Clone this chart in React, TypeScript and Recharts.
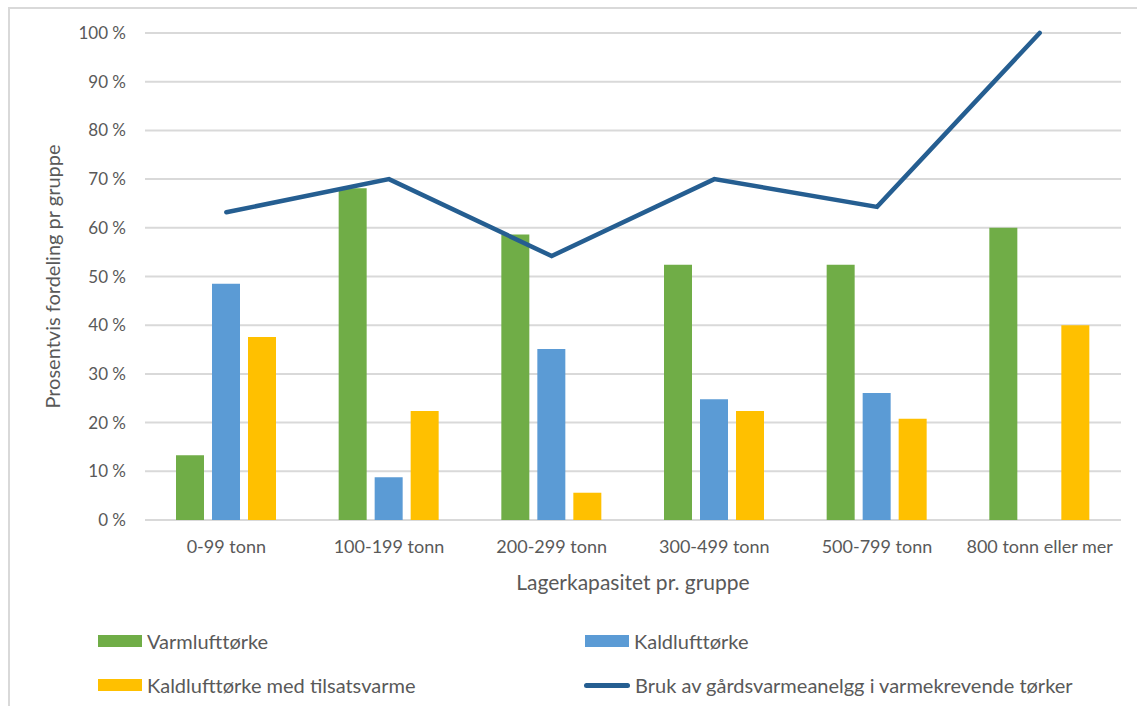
import React from 'react';
import { ComposedChart, Bar, Line, XAxis, YAxis, CartesianGrid } from 'recharts';

const categories = ['0-99 tonn', '100-199 tonn', '200-299 tonn', '300-499 tonn', '500-799 tonn', '800 tonn eller mer'];
const varmluft = [13.3, 68.1, 58.6, 52.4, 52.4, 60];
const kaldluft = [48.5, 8.8, 35.1, 24.8, 26.1, 0];
const medTilsats = [37.6, 22.4, 5.6, 22.4, 20.8, 40];
const gardsvarme = [63.2, 70, 54.2, 70, 64.3, 100];
const yTicks = [0, 10, 20, 30, 40, 50, 60, 70, 80, 90, 100];

const data = categories.map((name, i) => ({
  name,
  varm: varmluft[i],
  kald: kaldluft[i],
  med: medTilsats[i],
  bruk: gardsvarme[i],
}));

const FONT = 'Lato, "Liberation Sans", sans-serif';
const TEXT = '#595959';

const LegendItem: React.FC<{ x: number; y: number; label: string; color: string; line?: boolean }> = ({ x, y, label, color, line }) => (
  <div style={{ position: 'absolute', left: x, top: y - 12, height: 24, display: 'flex', alignItems: 'center' }}>
    <div
      style={{
        width: line ? 46 : 44,
        height: line ? 5 : 12,
        borderRadius: line ? 3 : 0,
        background: color,
        marginRight: 5,
      }}
    />
    <span style={{ fontFamily: FONT, fontSize: 20, color: TEXT, whiteSpace: 'nowrap' }}>{label}</span>
  </div>
);

export default function App() {
  return (
    <div style={{ position: 'absolute', left: 0, top: 0, width: 1137, height: 706, background: '#fff', overflow: 'hidden' }}>
      {/* chart frame, only left and top edges show */}
      <div style={{ position: 'absolute', left: 8, top: 7, width: 1200, height: 800, borderLeft: '2px solid #d9d9d9', borderTop: '2px solid #d9d9d9' }} />
      <ComposedChart
        width={1137}
        height={706}
        data={data}
        margin={{ top: 33, right: 16, left: 0, bottom: 111 }}
        barSize={28}
        barGap={8}
        style={{ position: 'absolute', left: 0, top: 0 }}
      >
        <CartesianGrid vertical={false} stroke="#d9d9d9" strokeWidth={2} />
        <XAxis
          dataKey="name"
          height={75}
          axisLine={false}
          tickLine={false}
          tickSize={0}
          tickMargin={20}
          tick={{ fill: TEXT, fontSize: 18, fontFamily: FONT }}
          label={{ value: 'Lagerkapasitet pr. gruppe', position: 'insideBottom', offset: 5, fill: TEXT, fontSize: 21, fontFamily: FONT }}
        />
        <YAxis
          width={145}
          domain={[0, 100]}
          ticks={yTicks}
          axisLine={false}
          tickLine={false}
          tickSize={0}
          tickMargin={19}
          tickFormatter={(v: number) => `${v} %`}
          tick={{ fill: TEXT, fontSize: 17, fontFamily: FONT }}
          label={{
            value: 'Prosentvis fordeling pr gruppe',
            angle: -90,
            position: 'insideLeft',
            offset: 53,
            fill: TEXT,
            fontSize: 20,
            fontFamily: FONT,
            style: { textAnchor: 'middle' },
          }}
        />
        <Bar dataKey="varm" name="Varmlufttørke" fill="#70ad47" isAnimationActive={false} />
        <Bar dataKey="kald" name="Kaldlufttørke" fill="#5b9bd5" isAnimationActive={false} />
        <Bar dataKey="med" name="Kaldlufttørke med tilsatsvarme" fill="#ffc000" isAnimationActive={false} />
        <Line
          dataKey="bruk"
          name="Bruk av gårdsvarmeanelgg i varmekrevende tørker"
          type="linear"
          stroke="#255e91"
          strokeWidth={4.5}
          strokeLinecap="round"
          dot={false}
          activeDot={false}
          isAnimationActive={false}
        />
      </ComposedChart>
      <LegendItem x={98} y={641} label="Varmlufttørke" color="#70ad47" />
      <LegendItem x={585} y={641} label="Kaldlufttørke" color="#5b9bd5" />
      <LegendItem x={98} y={685} label="Kaldlufttørke med tilsatsvarme" color="#ffc000" />
      <LegendItem x={584} y={685} label="Bruk av gårdsvarmeanelgg i varmekrevende tørker" color="#255e91" line />
    </div>
  );
}
